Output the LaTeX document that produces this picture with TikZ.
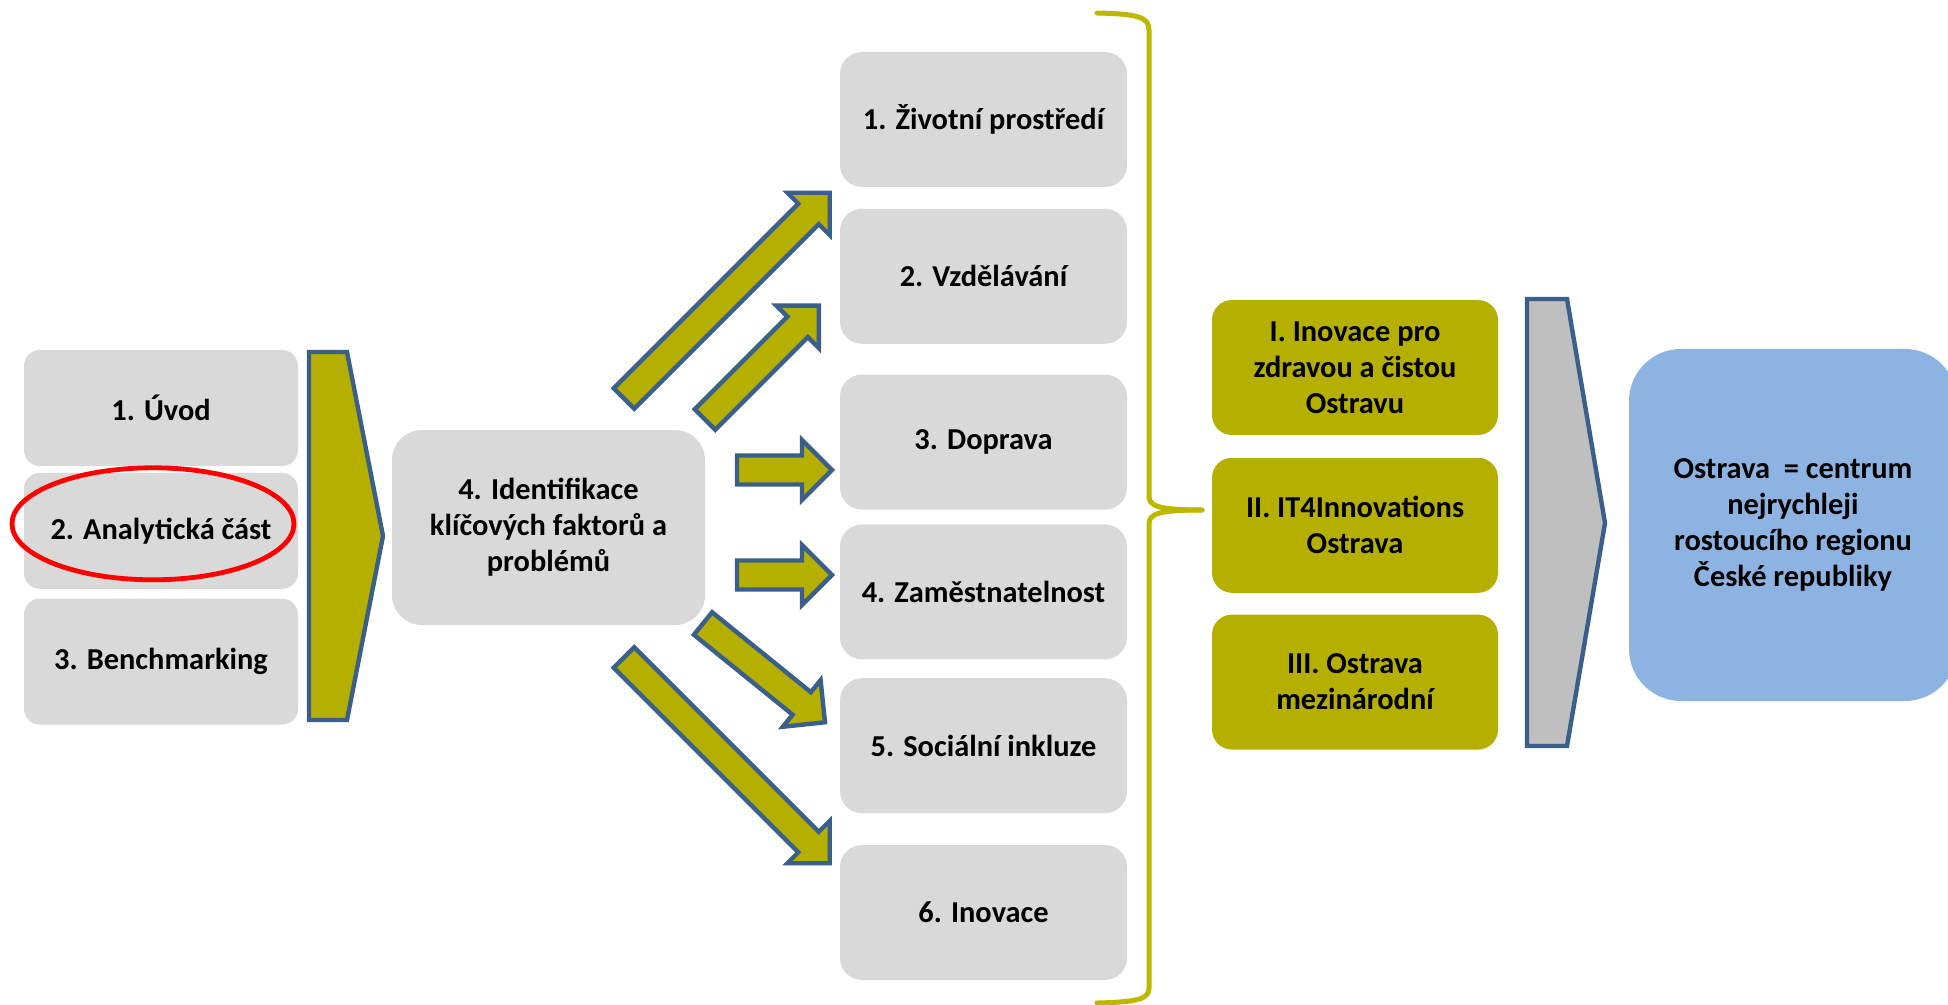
\documentclass[tikz,border=0pt]{standalone}
\usepackage{fontspec}
\setmainfont{Carlito}
\usetikzlibrary{positioning}

\definecolor{boxgray}{HTML}{D9D9D9}
\definecolor{stratolive}{HTML}{B5AF00}
\definecolor{arrblue}{HTML}{3A5F8B}
\definecolor{braceolive}{HTML}{BDB700}
\definecolor{chevgray}{HTML}{BFBFBF}
\definecolor{goalblue}{HTML}{8DB3E2}

\begin{document}
\begin{tikzpicture}[
  x=0.5pt, y=-0.5pt,
  every node/.style={font=\fontsize{15.2}{18}\selectfont\bfseries, align=center},
  leftbox/.style={fill=boxgray, rounded corners=8pt, minimum width=137pt, minimum height=58pt},
  box/.style={fill=boxgray, rounded corners=11pt, minimum width=143.5pt, minimum height=67.5pt},
  strat/.style={fill=stratolive, rounded corners=10pt, minimum width=143pt, minimum height=67.5pt},
  goalbox/.style={fill=goalblue, rounded corners=26pt, minimum width=164pt, minimum height=176pt},
  chev/.style={draw=arrblue, line width=2.2pt},
  brace/.style={draw=braceolive, line width=2.5pt, line cap=round},
  barrow/.pic={\draw[chev, fill=stratolive] (0,-14.5) -- ({#1-30},-14.5) -- ({#1-30},-30)
    -- (#1,0) -- ({#1-30},30) -- ({#1-30},14.5) -- (0,14.5) -- cycle;}
]
\useasboundingbox (0,0) rectangle (1948,1005);
\clip (0,0) rectangle (1948,1005);

% analysis parts
\node[leftbox] (uvod) at (161,408) {1. Úvod};
\node[leftbox, below=3pt of uvod] (anal) {2. Analytická část};
\node[leftbox, minimum height=63pt, below=4.5pt of anal] (bench) {3. Benchmarking};
\draw[red, line width=2.4pt] ([xshift=-4pt, yshift=3.5pt]anal.center) ellipse [x radius=70.5pt, y radius=28pt];
\draw[chev, fill=stratolive] (309,352) -- (347,352) -- (383,536) -- (347,720) -- (309,720) -- cycle;

\node[box, minimum width=156.5pt, minimum height=97.5pt, rounded corners=15pt] (ident) at (548.5,527.5)
  {4. Identifikace\\klíčových faktorů a\\problémů};

% key areas
\node[box] (zp) at (983.5,119.5) {1. Životní prostředí};
\node[box, below=10.5pt of zp] (vzd) {2. Vzdělávání};
\node[box, below=15pt of vzd] (dop) {3. Doprava};
\node[box, below=7pt of dop] (zam) {4. Zaměstnatelnost};
\node[box, below=9pt of zam] (soc) {5. Sociální inkluze};
\node[box, below=15.5pt of soc] (inov) {6. Inovace};

% block arrows
\coordinate (a1) at (624,398.5);
\coordinate (a2) at (705,419.5);
\coordinate (a3) at (737,470);
\coordinate (a4) at (737,575);
\coordinate (a5) at (703,623.5);
\coordinate (a6) at (624,657.5);
\pic[rotate=45] at (a1) {barrow=291};
\pic[rotate=45] at (a2) {barrow=161};
\pic at (a3) {barrow=95};
\pic at (a4) {barrow=95};
\pic[rotate=-39] at (a5) {barrow=157};
\pic[rotate=-45] at (a6) {barrow=291};

% brace
\coordinate (bt) at (1202,510);
\draw[brace] (1097,13) .. controls (1138,14) and (1149,17) .. (1149,30)
  -- (1149,496) .. controls (1149,506) and (1158,510) .. (bt);
\draw[brace] (bt) .. controls (1158,510) and (1149,514) .. (1149,524)
  -- (1149,988) .. controls (1149,999) and (1138,1002) .. (1097,1003);

% priorities
\node[strat] (s1) at (1355,367.5) {I. Inovace pro\\zdravou a čistou\\Ostravu};
\node[strat, below=11pt of s1] (s2) {II. IT4Innovations\\Ostrava};
\node[strat, below=10.5pt of s2] (s3) {III. Ostrava\\mezinárodní};
\draw[chev, fill=chevgray] (1527,299) -- (1567,299) -- (1605,523) -- (1567,746) -- (1527,746) -- cycle;

\node[goalbox] (goal) at (1793,525) {Ostrava~ = centrum\\nejrychleji\\rostoucího regionu\\České republiky};
\end{tikzpicture}
\end{document}
